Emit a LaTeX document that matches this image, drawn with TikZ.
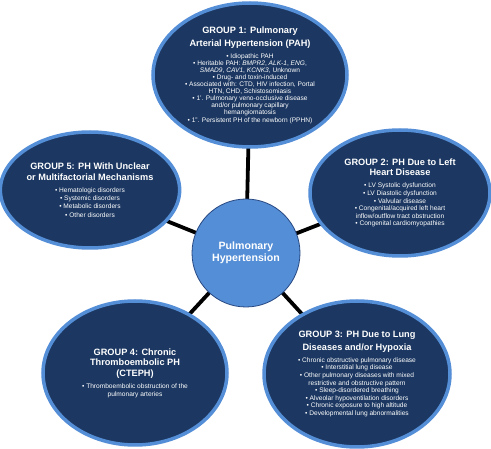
\documentclass[tikz,border=0pt]{standalone}
\usepackage{fontspec}
\setmainfont{Liberation Sans}
\usetikzlibrary{shapes.geometric}
\definecolor{navy}{RGB}{28,56,98}
\definecolor{skyblue}{RGB}{84,142,214}
\definecolor{rimblue}{RGB}{40,72,130}
\newcommand{\gt}[1]{{\fontsize{9.2}{10}\selectfont\bfseries #1}}
\newcommand{\itm}{\textbullet\ }

\begin{document}
\begin{tikzpicture}[x=1pt,y=-1pt,
    group/.style={ellipse,draw=skyblue,line width=3.5pt,fill=navy,text=white,
      inner sep=0pt,align=center,font=\fontsize{6.6}{7.6}\selectfont},
    hub/.style={circle,draw=rimblue,line width=0.8pt,fill=skyblue,text=white,
      minimum size=108pt,inner sep=0pt,align=center,
      font=\fontsize{10.6}{12}\selectfont\bfseries},
    link/.style={line width=3.8pt,black}]
    % Canvas
    \useasboundingbox (0,0) rectangle (491,449);

    % Spokes (drawn first, under the ellipses)
    \coordinate (c) at (246,253);
    \foreach \p in {(250,75),(400,193),(357,374),(135,373),(90,190)}
      \draw[link] (c) -- \p;

    % Central node
    \node[hub] (ph) at (c) {Pulmonary\\Hypertension};

    % Group 1
    \node[group,minimum width=194pt,minimum height=144pt,
      font=\fontsize{6.6}{7.1}\selectfont] (g1) at (250,75)
      {\gt{GROUP 1: Pulmonary}\\[3.6pt]
       \gt{Arterial Hypertension (PAH)}\\[4.6pt]
       \itm Idiopathic PAH\\
       \itm Heritable PAH: \textit{BMPR2}, \textit{ALK-1}, \textit{ENG},\\
       \textit{SMAD9}, \textit{CAV1}, \textit{KCNK3}, Unknown\\
       \itm Drug- and toxin-induced\\
       \itm Associated with: CTD, HIV infection, Portal\\
       HTN, CHD, Schistosomiasis\\
       \itm 1'. Pulmonary veno-occlusive disease\\
       and/or pulmonary capillary\\
       hemangiomatosis\\
       \itm 1''. Persistent PH of the newborn (PPHN)};

    % Group 2
    \node[group,minimum width=180pt,minimum height=126pt] (g2) at (400,193)
      {\gt{GROUP 2: PH Due to Left}\\[3pt]
       \gt{Heart Disease}\\[4.5pt]
       \itm LV Systolic dysfunction\\
       \itm LV Diastolic dysfunction\\
       \itm Valvular disease\\
       \itm Congenital/acquired left heart\\
       inflow/outflow tract obstruction\\
       \itm Congenital cardiomyopathies};

    % Group 3
    \node[group,minimum width=186pt,minimum height=146pt] (g3) at (357,374)
      {\gt{GROUP 3: PH Due to Lung}\\[3pt]
       \gt{Diseases and/or Hypoxia}\\[4.5pt]
       \itm Chronic obstructive pulmonary disease\\
       \itm Interstitial lung disease\\
       \itm Other pulmonary diseases with mixed\\
       restrictive and obstructive pattern\\
       \itm Sleep-disordered breathing\\
       \itm Alveolar hypoventilation disorders\\
       \itm Chronic exposure to high altitude\\
       \itm Developmental lung abnormalities};

    % Group 4
    \node[group,minimum width=184pt,minimum height=144pt] (g4) at (135,373)
      {\gt{GROUP 4: Chronic}\\[3pt]
       \gt{Thromboembolic PH}\\[3pt]
       \gt{(CTEPH)}\\[4.5pt]
       \itm Thromboembolic obstruction of the\\
       pulmonary arteries};

    % Group 5
    \node[group,minimum width=176pt,minimum height=116pt,
      font=\fontsize{6.6}{8.2}\selectfont] (g5) at (90,190)
      {\gt{GROUP 5: PH With Unclear}\\[2.5pt]
       \gt{or Multifactorial Mechanisms}\\[4pt]
       \itm Hematologic disorders\\
       \itm Systemic disorders\\
       \itm Metabolic disorders\\
       \itm Other disorders};
\end{tikzpicture}
\end{document}
